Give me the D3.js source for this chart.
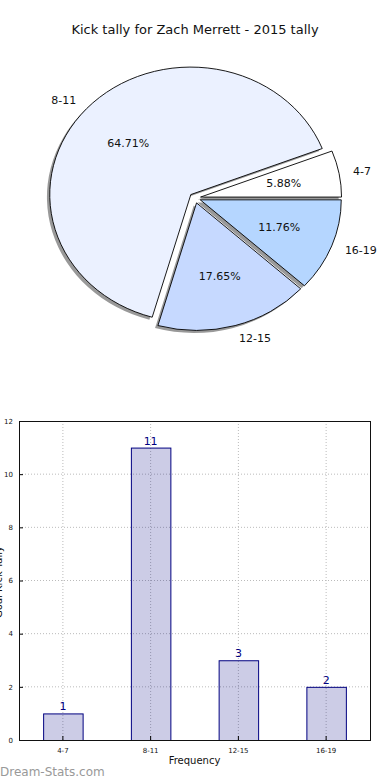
<!DOCTYPE html>
<html lang="en">
  <head>
    <meta charset="UTF-8" />
    <title>Kick tally</title>
    <style>
      html,
      body {
        margin: 0;
        background: #fff;
      }
      svg {
        display: block;
        font-family: "DejaVu Sans", sans-serif;
      }
    </style>
    <script src="https://cdn.jsdelivr.net/npm/d3@7"></script>
  </head>
  <body>
    <script>
      const width = 390;
      const height = 780;

      // data
      const categories = ["4-7", "8-11", "12-15", "16-19"];
      const tally = [1, 11, 3, 2];
      const pieColors = ["#ffffff", "#ebf1ff", "#c6d9ff", "#b5d6ff"];
      const yTicks = [0, 2, 4, 6, 8, 10, 12];

      const svg = d3
        .select("body")
        .append("svg")
        .attr("width", width)
        .attr("height", height);

      // ---- pie ----
      svg
        .append("text")
        .attr("x", 195)
        .attr("y", 34)
        .attr("text-anchor", "middle")
        .attr("font-size", 13)
        .attr("fill", "#111")
        .text("Kick tally for Zach Merrett - 2015 tally");

      const cx = 195,
        cy = 198,
        rx = 141,
        ry = 127.5;
      const explode = 0.04;

      // counter-clockwise from 3 o'clock, like matplotlib
      const pie = d3
        .pie()
        .sort(null)
        .startAngle(Math.PI / 2)
        .endAngle(Math.PI / 2 - 2 * Math.PI);
      const arcs = pie(tally);
      const arc = d3.arc().innerRadius(0).outerRadius(1);
      const total = d3.sum(tally);

      const offset = (d, k) => {
        const a = (d.startAngle + d.endAngle) / 2;
        return [cx + Math.sin(a) * k * rx, cy - Math.cos(a) * k * ry];
      };

      // shadows under everything
      svg
        .append("g")
        .selectAll("path")
        .data(arcs)
        .join("path")
        .attr("d", arc)
        .attr("transform", (d) => {
          const [x, y] = offset(d, explode);
          return `translate(${x - 0.02 * rx},${y + 0.02 * ry}) scale(${rx},${ry})`;
        })
        .attr("fill", "#999");

      svg
        .append("g")
        .selectAll("path")
        .data(arcs)
        .join("path")
        .attr("d", arc)
        .attr("transform", (d) => {
          const [x, y] = offset(d, explode);
          return `translate(${x},${y}) scale(${rx},${ry})`;
        })
        .attr("fill", (d, i) => pieColors[i])
        .attr("stroke", "#000")
        .attr("stroke-width", 0.9)
        .attr("vector-effect", "non-scaling-stroke");

      // outer labels
      svg
        .append("g")
        .selectAll("text")
        .data(arcs)
        .join("text")
        .attr("x", (d) => offset(d, explode + 1.1)[0])
        .attr("y", (d) => offset(d, explode + 1.1)[1])
        .attr("dy", "0.35em")
        .attr("text-anchor", (d) =>
          Math.sin((d.startAngle + d.endAngle) / 2) > 0 ? "start" : "end"
        )
        .attr("font-size", 11)
        .attr("fill", "#111")
        .text((d, i) => categories[i]);

      // percentages
      svg
        .append("g")
        .selectAll("text")
        .data(arcs)
        .join("text")
        .attr("x", (d) => offset(d, explode + 0.6)[0])
        .attr("y", (d) => offset(d, explode + 0.6)[1])
        .attr("dy", "0.35em")
        .attr("text-anchor", "middle")
        .attr("font-size", 11)
        .attr("fill", "#111")
        .text((d) => ((d.value / total) * 100).toFixed(2) + "%");

      // ---- bar chart ----
      const margin = { left: 19, right: 20, top: 421, bottom: 40 };
      const x = d3
        .scaleBand()
        .domain(categories)
        .range([margin.left, width - margin.right])
        .paddingInner(0.55)
        .paddingOuter(0.275);
      const y = d3
        .scaleLinear()
        .domain([0, 12])
        .range([height - margin.bottom, margin.top]);

      const plot = svg.append("g");

      // grid
      plot
        .append("g")
        .selectAll("line")
        .data(yTicks.slice(1, -1))
        .join("line")
        .attr("x1", margin.left)
        .attr("x2", width - margin.right)
        .attr("y1", (d) => y(d))
        .attr("y2", (d) => y(d))
        .attr("stroke", "#bbb")
        .attr("stroke-width", 1)
        .attr("stroke-dasharray", "1,2");
      plot
        .append("g")
        .selectAll("line")
        .data(categories)
        .join("line")
        .attr("x1", (d) => x(d) + x.bandwidth() / 2)
        .attr("x2", (d) => x(d) + x.bandwidth() / 2)
        .attr("y1", y(12))
        .attr("y2", y(0))
        .attr("stroke", "#bbb")
        .attr("stroke-width", 1)
        .attr("stroke-dasharray", "1,2");

      // bars
      plot
        .append("g")
        .selectAll("rect")
        .data(tally)
        .join("rect")
        .attr("x", (d, i) => x(categories[i]) + 0.5)
        .attr("y", (d) => y(d) + 0.5)
        .attr("width", x.bandwidth())
        .attr("height", (d) => y(0) - y(d))
        .attr("fill", "navy")
        .attr("fill-opacity", 0.2)
        .attr("stroke", "navy")
        .attr("stroke-width", 1);

      plot
        .append("g")
        .selectAll("text")
        .data(tally)
        .join("text")
        .attr("x", (d, i) => x(categories[i]) + x.bandwidth() / 2)
        .attr("y", (d) => y(d) - 3)
        .attr("text-anchor", "middle")
        .attr("font-size", 11)
        .attr("fill", "navy")
        .text((d) => d);

      // axes
      const yAxis = d3
        .axisLeft(y)
        .tickValues(yTicks)
        .tickSize(-4)
        .tickPadding(6)
        .tickFormat(d3.format("d"));
      const gy = svg
        .append("g")
        .attr("transform", `translate(${margin.left},0)`)
        .call(yAxis);
      const xAxis = d3.axisBottom(x).tickSize(-4).tickPadding(8);
      const gx = svg
        .append("g")
        .attr("transform", `translate(0,${height - margin.bottom})`)
        .call(xAxis);
      [gx, gy].forEach((g) => {
        g.selectAll("text")
          .attr("font-size", 7)
          .attr("font-family", "DejaVu Sans")
          .attr("fill", "#111");
        g.select(".domain").remove();
      });

      // frame
      svg
        .append("rect")
        .attr("x", margin.left + 0.5)
        .attr("y", margin.top + 0.5)
        .attr("width", width - margin.left - margin.right)
        .attr("height", height - margin.top - margin.bottom)
        .attr("fill", "none")
        .attr("stroke", "#111")
        .attr("stroke-width", 1);

      svg
        .append("text")
        .attr("x", (margin.left + width - margin.right) / 2)
        .attr("y", 764)
        .attr("text-anchor", "middle")
        .attr("font-size", 10)
        .attr("fill", "#111")
        .text("Frequency");

      // y label sits mostly outside the left edge, as in the original
      svg
        .append("text")
        .attr("transform", `translate(2,582) rotate(-90)`)
        .attr("text-anchor", "middle")
        .attr("font-size", 10)
        .attr("fill", "#111")
        .text("Goal Kick Tally");

      svg
        .append("text")
        .attr("x", 0)
        .attr("y", 776)
        .attr("font-size", 12)
        .attr("fill", "#999")
        .text("Dream-Stats.com");
    </script>
  </body>
</html>
